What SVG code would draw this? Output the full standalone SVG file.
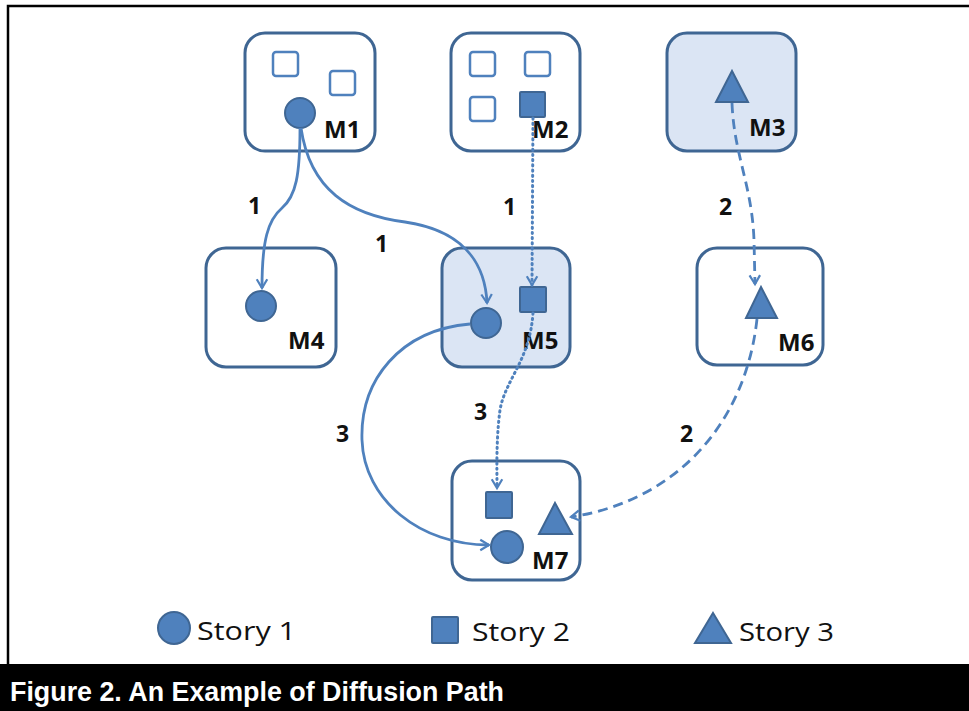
<svg xmlns="http://www.w3.org/2000/svg" width="969" height="711" viewBox="0 0 969 711">
<style>
.box{fill:#ffffff;stroke:#3f6693;stroke-width:3}
.hl{fill:#dbe5f4}
.hollow{fill:#ffffff;stroke:#4f81bd;stroke-width:2.5}
.shape{fill:#4f81bd;stroke:#3f6693;stroke-width:2}
.lbl{font-family:"Open Sans","Liberation Sans",sans-serif;font-weight:700;font-size:24px;fill:#111111}
.num{font-family:"Open Sans","Liberation Sans",sans-serif;font-weight:700;font-size:23px;fill:#111111}
.leg{font-family:"Open Sans","Liberation Sans",sans-serif;font-size:26px;fill:#111111}
.con{fill:none;stroke:#4f81bd;stroke-width:2.8}
.dot{stroke-dasharray:1.2 4;stroke-linecap:round;stroke-width:3}
.dash{stroke-dasharray:10 6}
</style>
<defs>
<marker id="arr" markerUnits="userSpaceOnUse" markerWidth="14" markerHeight="14" refX="10" refY="6" orient="auto" viewBox="-2 -2 14 16">
<path d="M0,0 L10,6 L0,12" fill="none" stroke="#4f81bd" stroke-width="2.5"/>
</marker>
</defs>
<rect x="0" y="0" width="969" height="711" fill="#ffffff"/>
<path d="M8,664 L8,6 L969,6" fill="none" stroke="#000000" stroke-width="2.5"/>
<rect x="0" y="664" width="969" height="47" fill="#000000"/>
<text x="10" y="701" font-family="'Liberation Sans',Arial,sans-serif" font-weight="700" font-size="27" fill="#ffffff" textLength="494" lengthAdjust="spacingAndGlyphs">Figure 2. An Example of Diffusion Path</text>

<g id="M1">
<rect class="box" x="245" y="33" width="130" height="118" rx="20"/>
<rect class="hollow" x="273" y="52" width="25" height="24" rx="3"/>
<rect class="hollow" x="330" y="71" width="25" height="24" rx="3"/>
<circle class="shape" cx="300" cy="113" r="15"/>
<text class="lbl" x="324" y="138">M1</text>
</g>
<g id="M2">
<rect class="box" x="451" y="33" width="129" height="118" rx="20"/>
<rect class="hollow" x="470" y="52" width="25" height="24" rx="3"/>
<rect class="hollow" x="525" y="52" width="25" height="24" rx="3"/>
<rect class="hollow" x="470" y="97" width="25" height="24" rx="3"/>
<rect class="shape" x="520" y="92" width="25" height="25" rx="1"/>
<text class="lbl" x="532" y="138">M2</text>
</g>
<g id="M3">
<rect class="box hl" x="667" y="33" width="129" height="118" rx="20"/>
<polygon class="shape" points="732,71 748,102 716,102"/>
<text class="lbl" x="749" y="136">M3</text>
</g>
<g id="M4">
<rect class="box" x="206" y="248" width="130" height="119" rx="20"/>
<circle class="shape" cx="261" cy="306" r="15"/>
<text class="lbl" x="288" y="349">M4</text>
</g>
<g id="M5">
<rect class="box hl" x="442" y="248" width="128" height="119" rx="20"/>
<rect class="shape" x="520" y="287" width="26" height="25" rx="1"/>
<circle class="shape" cx="486" cy="323" r="15"/>
<text class="lbl" x="522" y="349">M5</text>
</g>
<g id="M6">
<rect class="box" x="697" y="248" width="126" height="117" rx="20"/>
<polygon class="shape" points="761,287 777,318 746,318"/>
<text class="lbl" x="778" y="351">M6</text>
</g>
<g id="M7">
<rect class="box" x="452" y="461" width="128" height="119" rx="20"/>
<rect class="shape" x="486" y="492" width="26" height="26" rx="1"/>
<polygon class="shape" points="555,503 572,534 539,534"/>
<circle class="shape" cx="507" cy="547" r="16"/>
<text class="lbl" x="532" y="569">M7</text>
</g>

<g id="connectors">
<path class="con" d="M300,128 C300,175 296,196 282,208 C268,220 262,240 262,288" marker-end="url(#arr)"/>
<path class="con" d="M301,128 C310,190 350,215 405,222 C460,230 485,260 487,303" marker-end="url(#arr)"/>
<path class="con dot" d="M533,118 L532,285" marker-end="url(#arr)"/>
<path class="con dot" d="M533,313 C530,360 505,380 500,410 C496,440 497,470 497,488" marker-end="url(#arr)"/>
<path class="con" d="M470,324 C400,330 360,380 362,440 C364,500 420,545 489,545" marker-end="url(#arr)"/>
<path class="con dash" d="M732,103 C734,155 752,185 754,240 L755,284" marker-end="url(#arr)"/>
<path class="con dash" d="M757,319 C746,420 680,500 571,517" marker-end="url(#arr)"/>
<text class="num" x="248" y="214">1</text>
<text class="num" x="375" y="252">1</text>
<text class="num" x="503" y="215">1</text>
<text class="num" x="719" y="215">2</text>
<text class="num" x="336" y="442">3</text>
<text class="num" x="474" y="420">3</text>
<text class="num" x="680" y="442">2</text>
</g>

<g id="legend">
<circle class="shape" cx="174" cy="628" r="16"/>
<text class="leg" x="197" y="640" textLength="99" lengthAdjust="spacingAndGlyphs">Story 1</text>
<rect class="shape" x="432" y="617" width="26" height="26" rx="1"/>
<text class="leg" x="472" y="641" textLength="98" lengthAdjust="spacingAndGlyphs">Story 2</text>
<polygon class="shape" points="713,613 731,643 695,643"/>
<text class="leg" x="739" y="641" textLength="95" lengthAdjust="spacingAndGlyphs">Story 3</text>
</g>
</svg>
